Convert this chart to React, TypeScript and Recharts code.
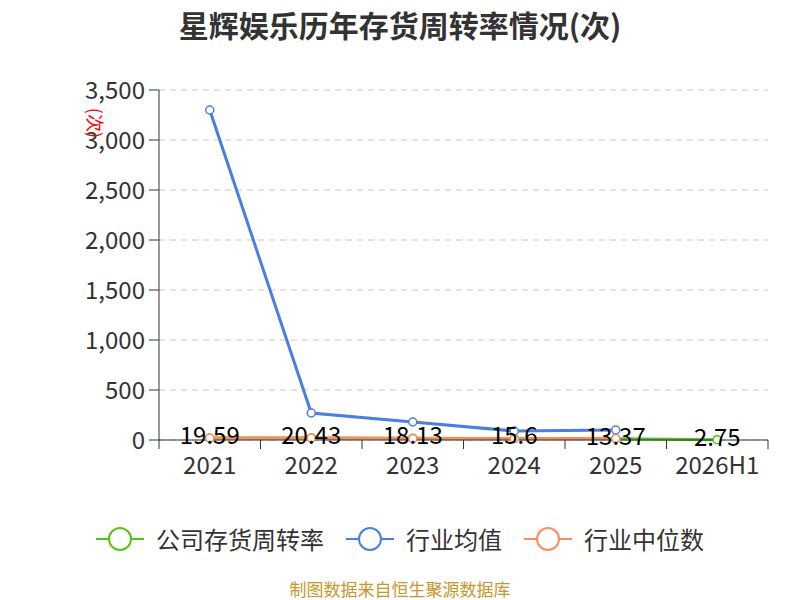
import React from 'react';
import { LineChart, Line, XAxis, YAxis, CartesianGrid, LabelList, Label } from 'recharts';

const years = ['2021', '2022', '2023', '2024', '2025', '2026H1'];
const companyTurnover = [19.59, 20.43, 18.13, 15.6, 13.37, 2.75];
const industryAvg = [3300, 270, 180, 90, 100, null];
const industryMedian = [20, 21, 14, 13, 14, null];
const yTicks = [0, 500, 1000, 1500, 2000, 2500, 3000, 3500];

const data = years.map((name, i) => ({
  name,
  company: companyTurnover[i],
  avg: industryAvg[i],
  median: industryMedian[i],
}));

const GREEN = '#52c41a';
const BLUE = '#4a7ee0';
const ORANGE = '#ff8a5c';

const legendItems = [
  { label: '公司存货周转率', color: GREEN },
  { label: '行业均值', color: BLUE },
  { label: '行业中位数', color: ORANGE },
];

const BAND = 609 / years.length;

const CategoryTick = (props: any) => {
  const { x, y, payload, index } = props;
  return (
    <g>
      <line x1={x - BAND / 2} y1={y} x2={x - BAND / 2} y2={y + 9} stroke="#333" />
      {index === years.length - 1 && (
        <line x1={x + BAND / 2} y1={y} x2={x + BAND / 2} y2={y + 9} stroke="#333" />
      )}
      <text x={x} y={y + 34} textAnchor="middle" fill="#333" fontSize={24}>
        {payload.value}
      </text>
    </g>
  );
};

const ValueLabel = (props: any) => {
  const { x, y, value } = props;
  if (y == null || value == null) return null;
  return (
    <text x={x} y={y + 6} textAnchor="middle" fill="#000" fontSize={24}>
      {value}
    </text>
  );
};

function App() {
  return (
    <div style={{ position: 'absolute', left: 0, top: 0, width: 800, height: 600, fontFamily: '"Noto Sans CJK SC", "Noto Sans", sans-serif' }}>
      <div style={{ position: 'absolute', top: 2, width: 800, textAlign: 'center', fontSize: 30, fontWeight: 'bold', color: '#333' }}>
        星辉娱乐历年存货周转率情况(次)
      </div>
      <LineChart width={800} height={480} data={data} margin={{ top: 90, right: 32, left: 0, bottom: 0 }}>
        <CartesianGrid vertical={false} stroke="#c8c8c8" strokeDasharray="6 5" />
        <XAxis
          dataKey="name"
          tickLine={false}
          tickSize={0}
          tickMargin={0}
          tick={<CategoryTick />}
          stroke="#333"
          height={40}
          interval={0}
          padding={{ left: BAND / 2, right: BAND / 2 }}
        />
        <YAxis
          domain={[0, 3500]}
          ticks={yTicks}
          width={159}
          stroke="#333"
          tick={{ fill: '#333', fontSize: 24 }}
          tickFormatter={(v: number) => v.toLocaleString('en-US')}
          tickSize={10}
          tickMargin={4}
        >
          <Label value="(次)" angle={90} position="insideTopRight" offset={0} dx={-58} dy={48} fill="#ff0000" fontSize={18} />
        </YAxis>
        <Line dataKey="company" stroke={GREEN} strokeWidth={3} dot={{ r: 4, fill: '#fff', strokeWidth: 1.5 }} isAnimationActive={false} />
        <Line dataKey="avg" stroke={BLUE} strokeWidth={3} dot={{ r: 4, fill: '#fff', strokeWidth: 1.5 }} isAnimationActive={false} />
        <Line dataKey="median" stroke={ORANGE} strokeWidth={3} dot={{ r: 4, fill: '#fff', strokeWidth: 1.5 }} isAnimationActive={false} />
        <Line dataKey="company" stroke="none" dot={false} activeDot={false} isAnimationActive={false}>
          <LabelList dataKey="company" content={<ValueLabel />} />
        </Line>
      </LineChart>
      <div style={{ position: 'absolute', top: 521, left: 0, width: 800, display: 'flex', justifyContent: 'center', gap: 22, fontSize: 24, color: '#333' }}>
        {legendItems.map((it) => (
          <div key={it.label} style={{ display: 'flex', alignItems: 'center' }}>
            <svg width={48} height={30} style={{ marginRight: 12 }}>
              <line x1={0} y1={15} x2={48} y2={15} stroke={it.color} strokeWidth={2} />
              <circle cx={24} cy={15} r={11} fill="#fff" stroke={it.color} strokeWidth={2} />
            </svg>
            <span>{it.label}</span>
          </div>
        ))}
      </div>
      <div style={{ position: 'absolute', top: 576, width: 800, textAlign: 'center', fontSize: 17, color: '#c8962a' }}>
        制图数据来自恒生聚源数据库
      </div>
    </div>
  );
}

export default App;
